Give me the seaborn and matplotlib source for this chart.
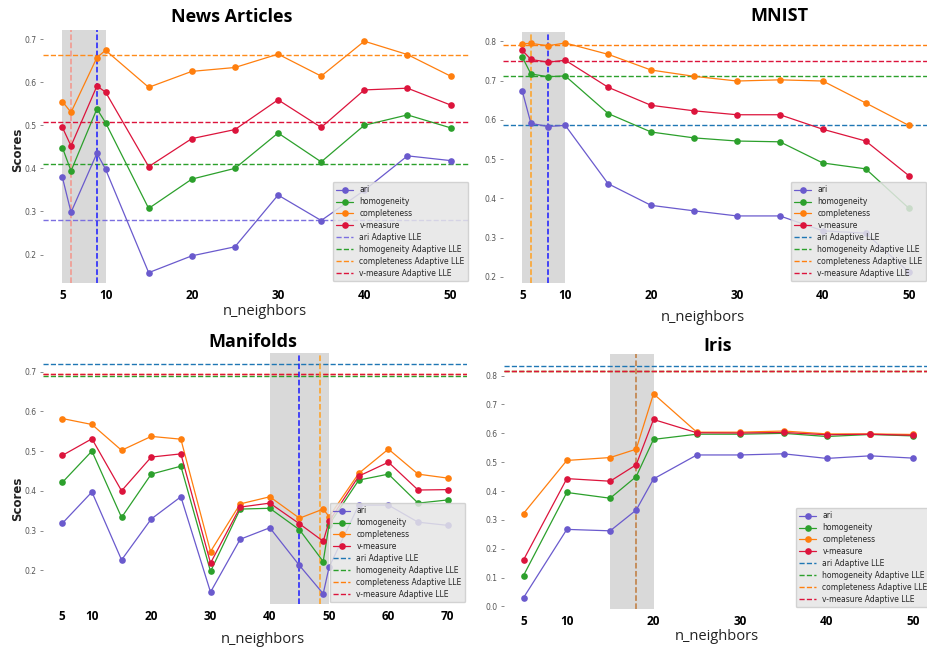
import matplotlib
matplotlib.use("Agg")
import matplotlib.pyplot as plt
import seaborn as sns
import pandas as pd

sns.set_theme(style="white")
plt.rcParams["font.family"] = ["DejaVu Sans"]

metrics = ["ari", "homogeneity", "completeness", "v-measure"]
line_colors = ["#6a5acd", "#2ca02c", "#ff7f0e", "#dc143c"]

# ---------------- News Articles ----------------
news_k = [5, 6, 9, 10, 15, 20, 25, 30, 35, 40, 45, 50]
news_ari = [0.379, 0.298, 0.435, 0.398, 0.158, 0.197, 0.218, 0.338, 0.279, 0.349, 0.429, 0.418]
news_hom = [0.448, 0.394, 0.538, 0.506, 0.307, 0.375, 0.400, 0.482, 0.415, 0.500, 0.524, 0.494]
news_com = [0.555, 0.530, 0.657, 0.674, 0.588, 0.625, 0.634, 0.665, 0.614, 0.695, 0.664, 0.614]
news_vme = [0.495, 0.452, 0.591, 0.577, 0.404, 0.469, 0.490, 0.559, 0.495, 0.582, 0.586, 0.547]
news_adaptive = [0.281, 0.411, 0.664, 0.507]
news_vlines = [6, 9]

# ---------------- MNIST ----------------
mnist_k = [5, 6, 8, 10, 15, 20, 25, 30, 35, 40, 45, 50]
mnist_ari = [0.673, 0.591, 0.583, 0.586, 0.437, 0.382, 0.368, 0.355, 0.355, 0.317, 0.311, 0.212]
mnist_hom = [0.760, 0.717, 0.710, 0.712, 0.616, 0.569, 0.554, 0.546, 0.544, 0.490, 0.475, 0.375]
mnist_com = [0.794, 0.795, 0.789, 0.796, 0.767, 0.727, 0.711, 0.699, 0.702, 0.699, 0.643, 0.586]
mnist_vme = [0.777, 0.754, 0.747, 0.752, 0.683, 0.637, 0.623, 0.613, 0.613, 0.576, 0.546, 0.458]
mnist_adaptive = [0.586, 0.712, 0.790, 0.749]
mnist_vlines = [6, 8]

# ---------------- Manifolds ----------------
man_k = [5, 10, 15, 20, 25, 30, 35, 40, 45, 49, 50, 55, 60, 65, 70]
man_ari = [0.318, 0.397, 0.226, 0.329, 0.385, 0.145, 0.278, 0.307, 0.212, 0.141, 0.208, 0.364, 0.364, 0.321, 0.313]
man_hom = [0.421, 0.500, 0.333, 0.442, 0.462, 0.197, 0.354, 0.356, 0.302, 0.222, 0.315, 0.427, 0.442, 0.369, 0.377]
man_com = [0.582, 0.567, 0.502, 0.537, 0.530, 0.247, 0.367, 0.385, 0.331, 0.354, 0.335, 0.444, 0.505, 0.442, 0.432]
man_vme = [0.489, 0.531, 0.400, 0.485, 0.493, 0.218, 0.359, 0.369, 0.317, 0.273, 0.323, 0.437, 0.472, 0.402, 0.403]
man_adaptive = [0.720, 0.690, 0.693, 0.694]
man_vlines = [45, 48.5]

# ---------------- Iris ----------------
iris_k = [5, 10, 15, 18, 20, 25, 30, 35, 40, 45, 50]
iris_ari = [0.030, 0.267, 0.262, 0.334, 0.442, 0.525, 0.525, 0.529, 0.513, 0.522, 0.514]
iris_hom = [0.107, 0.395, 0.375, 0.450, 0.579, 0.597, 0.597, 0.600, 0.589, 0.596, 0.591]
iris_com = [0.322, 0.506, 0.516, 0.545, 0.737, 0.604, 0.604, 0.608, 0.598, 0.598, 0.596]
iris_vme = [0.161, 0.443, 0.434, 0.491, 0.648, 0.602, 0.601, 0.603, 0.595, 0.597, 0.593]
iris_adaptive = [0.833, 0.816, 0.816, 0.816]
iris_vlines = [18]

panels = [
    dict(title="News Articles", k=news_k, vals=[news_ari, news_hom, news_com, news_vme],
         adaptive=news_adaptive, vlines=news_vlines, vcolors=["#f4948a", "#1a1aff"],
         hcolors=["#7b6fe0", "#2ca02c", "#ff8c1a", "#dc143c"], span=(5, 10),
         ylim=(0.134, 0.721), yticks=[0.2, 0.3, 0.4, 0.5, 0.6, 0.7],
         xticks=[5, 10, 20, 30, 40, 50], pos=[43, 30, 470, 283],
         tpos=(0.443, 1.051), xlab=(0.52, -0.082), ylab=(-0.045, 0.526)),
    dict(title="MNIST", k=mnist_k, vals=[mnist_ari, mnist_hom, mnist_com, mnist_vme],
         adaptive=mnist_adaptive, vlines=mnist_vlines, vcolors=["#ffa020", "#1a1aff"],
         hcolors=["#1f77b4", "#2ca02c", "#ff7f0e", "#dc143c"], span=(5, 10),
         ylim=(0.184, 0.824), yticks=[0.2, 0.3, 0.4, 0.5, 0.6, 0.7, 0.8],
         xticks=[5, 10, 20, 30, 40, 50], pos=[503, 32, 928, 283],
         tpos=(0.651, 1.064), xlab=(0.469, -0.108), ylab=None),
    dict(title="Manifolds", k=man_k, vals=[man_ari, man_hom, man_com, man_vme],
         adaptive=man_adaptive, vlines=man_vlines, vcolors=["#1a1aff", "#ffa020"],
         hcolors=["#1f77b4", "#2ca02c", "#ff7f0e", "#dc143c"], span=(40, 50),
         ylim=(0.115, 0.747), yticks=[0.2, 0.3, 0.4, 0.5, 0.6, 0.7],
         xticks=[5, 10, 20, 30, 40, 50, 60, 70], pos=[43, 353, 467, 604],
         tpos=(0.495, 1.044), xlab=(0.519, -0.112), ylab=(-0.045, 0.42)),
    dict(title="Iris", k=iris_k, vals=[iris_ari, iris_hom, iris_com, iris_vme],
         adaptive=iris_adaptive, vlines=iris_vlines, vcolors=["#c07a3c"],
         hcolors=["#1f77b4", "#2ca02c", "#ff7f0e", "#dc143c"], span=(15, 20),
         ylim=(-0.009, 0.875), yticks=[0.0, 0.1, 0.2, 0.3, 0.4, 0.5, 0.6, 0.7, 0.8],
         xticks=[5, 10, 20, 30, 40, 50], pos=[504, 354, 933, 609],
         tpos=(0.499, 1.031), xlab=(0.497, -0.078), ylab=None),
]

W, H = 927, 648
fig = plt.figure(figsize=(W / 100, H / 100), dpi=100)
fig.patch.set_facecolor("white")

for p in panels:
    x0, y0, x1, y1 = p["pos"]
    ax = fig.add_axes([x0 / W, 1 - y1 / H, (x1 - x0) / W, (y1 - y0) / H])
    ax.set_facecolor("white")
    ax.axvspan(p["span"][0], p["span"][1], color="#d9d9d9", zorder=0, lw=0)
    for m, c, v in zip(metrics, line_colors, p["vals"]):
        df = pd.DataFrame({"n_neighbors": p["k"], "score": v})
        sns.lineplot(data=df, x="n_neighbors", y="score", ax=ax, color=c, label=m,
                     marker="o", markersize=4.8, markeredgewidth=0, linewidth=0.9, zorder=3)
    for m, c, a in zip(metrics, p["hcolors"], p["adaptive"]):
        ax.axhline(a, color=c, ls="--", lw=1.0, label=f"{m} Adaptive LLE", zorder=2)
    for xv, c in zip(p["vlines"], p["vcolors"]):
        ax.axvline(xv, color=c, ls="--", lw=1.1, zorder=2)
    ax.set_ylim(*p["ylim"])
    ax.set_yticks(p["yticks"])
    ax.set_yticklabels([f"{t:.1f}" for t in p["yticks"]])
    ax.set_xticks(p["xticks"])
    ax.set_xticklabels([str(t) for t in p["xticks"]], fontweight="bold",
                       fontsize=8.5, color="black", family=["Open Sans", "DejaVu Sans"])
    ax.tick_params(axis="x", length=0, pad=4)
    ax.tick_params(axis="y", length=2.5, width=0.6, color="#777777",
                   labelsize=5.5, labelcolor="#555555", pad=2, left=True)
    for s in ax.spines.values():
        s.set_visible(False)
    ax.set_xlabel("n_neighbors", fontsize=10.5, color="#222222",
                  family=["Open Sans", "DejaVu Sans"])
    ax.xaxis.set_label_coords(*p["xlab"])
    if p["ylab"] is not None:
        ax.set_ylabel("Scores", fontsize=8.5, fontweight="bold", color="#222222")
        ax.yaxis.set_label_coords(*p["ylab"])
    else:
        ax.set_ylabel("")
    ax.text(p["tpos"][0], p["tpos"][1], p["title"], transform=ax.transAxes,
            ha="center", va="center", fontsize=13, fontweight="bold",
            family=["Open Sans", "DejaVu Sans"], color="black")
    leg = ax.legend(loc="lower right", fontsize=5.5, frameon=True, fancybox=True,
                    borderaxespad=0.2, handlelength=2.2, labelspacing=0.38,
                    borderpad=0.5)
    leg.get_frame().set_facecolor("#e6e6e6")
    leg.get_frame().set_edgecolor("#cccccc")
    leg.get_frame().set_alpha(0.85)

fig.savefig("out.png", dpi=100, facecolor="white")
